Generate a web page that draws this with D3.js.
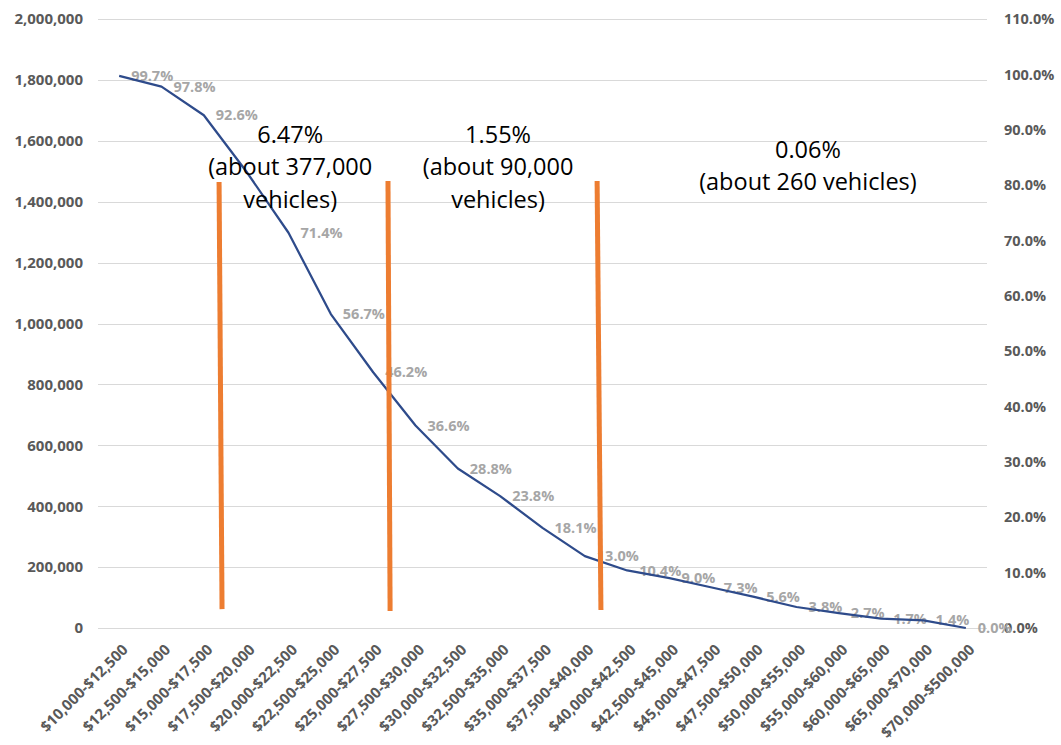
<!DOCTYPE html>
<html><head><meta charset="utf-8">
<script src="https://cdn.jsdelivr.net/npm/d3@7"></script>
<style>
body{margin:0;background:#fff;}
svg{display:block;font-family:"Open Sans",sans-serif;}
</style>
</head><body>
<svg id="c" width="1061" height="745"></svg>
<script>
const categories = ["$10,000-$12,500","$12,500-$15,000","$15,000-$17,500","$17,500-$20,000","$20,000-$22,500","$22,500-$25,000","$25,000-$27,500","$27,500-$30,000","$30,000-$32,500","$32,500-$35,000","$35,000-$37,500","$37,500-$40,000","$40,000-$42,500","$42,500-$45,000","$45,000-$47,500","$47,500-$50,000","$50,000-$55,000","$55,000-$60,000","$60,000-$65,000","$65,000-$70,000","$70,000-$500,000"];
const cumulativeVehicles = [1813000,1778000,1684000,1500000,1298000,1031000,840000,665000,524000,433000,329000,236000,189000,164000,133000,102000,69000,49000,31000,25000,0];
const percentLabels = ["99.7%","97.8%","92.6%",null,"71.4%","56.7%","46.2%","36.6%","28.8%","23.8%","18.1%","13.0%","10.4%","9.0%","7.3%","5.6%","3.8%","2.7%","1.7%","1.4%","0.0%"];
const leftTicks = [0,200000,400000,600000,800000,1000000,1200000,1400000,1600000,1800000,2000000];
const rightTicks = [0,0.1,0.2,0.3,0.4,0.5,0.6,0.7,0.8,0.9,1.0,1.1];
const markerTopIdx = [2.36, 6.35, 11.29];
const markerBottomIdx = [2.43, 6.40, 11.38];
const markerTopVal = [1465000, 1468000, 1468000];
const markerBottomVal = [62000, 56000, 59000];
const noteLines = [["6.47%","(about 377,000","vehicles)"],["1.55%","(about 90,000","vehicles)"],["0.06%","(about 260 vehicles)"]];
const noteIdx = [4.04, 8.95, 16.27];
const noteFirstBaselineVal = [1593000, 1593000, 1543000];

(function () {
const plotL = 98, plotR = 987, plotT = 19, plotB = 628;
const svg = d3.select("#c");

const x = d3.scaleBand().domain(categories).range([plotL, plotR]);
const cx = i => x(categories[i]) + x.bandwidth() / 2;
const xi = d3.scaleLinear().domain([0, categories.length - 1]).range([cx(0), cx(categories.length - 1)]);
const y = d3.scaleLinear().domain([0, 2000000]).range([plotB, plotT]);
const yr = d3.scaleLinear().domain([0, 1.1]).range([plotB, plotT]);

// gridlines
svg.append("g").selectAll("line").data(leftTicks).join("line")
  .attr("x1", plotL).attr("x2", plotR)
  .attr("y1", d => Math.round(y(d)) + 0.5).attr("y2", d => Math.round(y(d)) + 0.5)
  .attr("stroke", "#d9d9d9").attr("stroke-width", 1);

// left axis
const la = svg.append("g").attr("transform", `translate(${plotL},0)`)
  .call(d3.axisLeft(y).tickValues(leftTicks).tickFormat(d3.format(",")).tickSize(0).tickPadding(15));
la.select(".domain").remove();
la.selectAll("text").attr("font-family", "Open Sans").attr("font-weight", "bold").attr("font-size", 15).attr("fill", "#595959");

// right axis
const ra = svg.append("g").attr("transform", `translate(${plotR},0)`)
  .call(d3.axisRight(yr).tickValues(rightTicks).tickFormat(d3.format(".1%")).tickSize(0).tickPadding(17));
ra.select(".domain").remove();
ra.selectAll("text").attr("font-family", "Open Sans").attr("font-weight", "bold").attr("font-size", 14.5).attr("fill", "#595959");

// x labels
svg.append("g").selectAll("text").data(categories).join("text")
  .attr("transform", (d, i) => `translate(${cx(i) + 6},${plotB + 19}) rotate(-45)`)
  .attr("text-anchor", "end").attr("dy", "0.35em")
  .attr("font-weight", "bold").attr("font-size", 15).attr("fill", "#595959")
  .text(d => d);

// data labels
svg.append("g").selectAll("text").data(percentLabels.map((t, i) => ({t, i})).filter(d => d.t !== null)).join("text")
  .attr("x", d => cx(d.i) + 12).attr("y", d => y(cumulativeVehicles[d.i]))
  .attr("dy", "0.35em")
  .attr("font-weight", "bold").attr("font-size", 14.5).attr("fill", "#a6a6a6")
  .text(d => d.t);

// line
const line = d3.line().x((d, i) => cx(i)).y(d => y(d));
svg.append("path").datum(cumulativeVehicles)
  .attr("d", line).attr("fill", "none").attr("stroke", "#2e4b8b").attr("stroke-width", 2.25)
  .attr("stroke-linejoin", "round");

// orange markers
svg.append("g").selectAll("line").data(markerTopIdx).join("line")
  .attr("x1", (d, i) => xi(markerTopIdx[i])).attr("y1", (d, i) => y(markerTopVal[i]))
  .attr("x2", (d, i) => xi(markerBottomIdx[i])).attr("y2", (d, i) => y(markerBottomVal[i]))
  .attr("stroke", "#ed7d31").attr("stroke-width", 5);

// annotations
const notes = svg.append("g").selectAll("text").data(noteLines).join("text")
  .attr("text-anchor", "middle").attr("font-size", 23.5).attr("fill", "#000");
notes.each(function(lines, k) {
  d3.select(this).selectAll("tspan").data(lines).join("tspan")
    .attr("x", xi(noteIdx[k]))
    .attr("y", (d, j) => y(noteFirstBaselineVal[k]) + j * 32.3)
    .text(d => d);
});
})();
</script>
</body></html>
